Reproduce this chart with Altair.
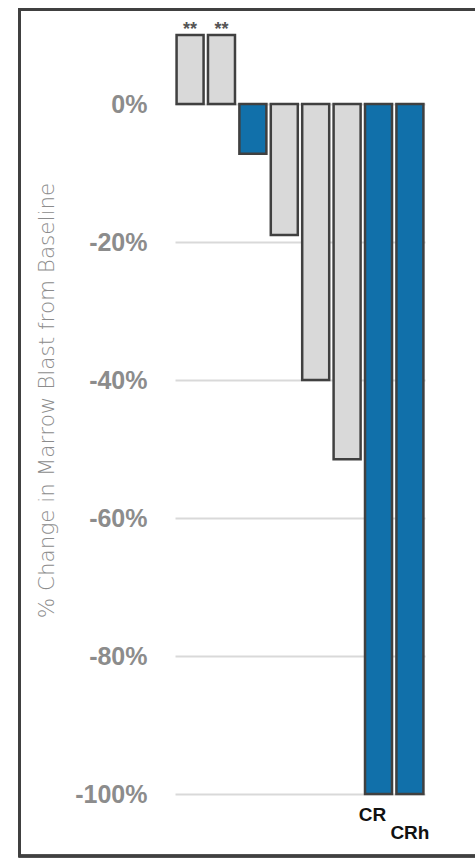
import altair as alt
import pandas as pd

patients = ["P1", "P2", "P3", "P4", "P5", "P6", "P7", "P8"]
change = [0.10, 0.10, -0.072, -0.19, -0.40, -0.515, -1.0, -1.0]
group = ["other", "other", "resp", "other", "other", "other", "resp", "resp"]
star_labels = ["**", "**", "", "", "", "", "", ""]
resp_labels = ["", "", "", "", "", "", "CR", "CRh"]
tick_values = [0, -0.2, -0.4, -0.6, -0.8, -1.0]

df = pd.DataFrame({"patient": patients, "change": change, "group": group,
                   "star": star_labels, "resp": resp_labels})

x_enc = alt.X("patient:N", sort=patients, axis=None,
              scale=alt.Scale(paddingInner=0.14, paddingOuter=0.05))
y_scale = alt.Scale(domain=[-1.0, 0.1], nice=False, zero=True)

bars = alt.Chart(df).mark_bar(stroke="#404040", strokeWidth=2.5, clip=False).encode(
    x=x_enc,
    y=alt.Y("change:Q", scale=y_scale,
            axis=alt.Axis(values=tick_values, grid=True,
                          labelExpr="replace(format(datum.value, '.0%'), '\u2212', '-')",
                          gridColor="#d9d9d9", gridWidth=2, ticks=False, domain=False,
                          labelFont="Liberation Sans", labelFontWeight="bold",
                          labelFontSize=25, labelColor="#8c8c8c", labelPadding=28,
                          title="% Change in Marrow Blast from Baseline",
                          titleFont="DejaVu Sans", titleFontWeight=300, titleFontSize=21.5,
                          titleColor="#8c8c8c", titleX=-128, titleY=365,
                          titleAngle=-90, titleAlign="center", titleBaseline="middle")),
    y2=alt.datum(0),
    color=alt.Color("group:N", scale=alt.Scale(domain=["other", "resp"],
                                               range=["#d9d9d9", "#1170aa"]),
                    legend=None),
)

stars = alt.Chart(df).transform_filter("datum.star != ''").mark_text(
    dy=-5, fontSize=18, fontWeight="bold", color="#555555", font="Liberation Sans"
).encode(x=x_enc, y=alt.Y("change:Q", scale=y_scale), text="star:N")

cr = alt.Chart(df).transform_filter("datum.resp == 'CR'").mark_text(
    dx=-6, dy=21, fontSize=19, fontWeight="bold", color="#111111", font="Liberation Sans"
).encode(x=x_enc, y=alt.Y("change:Q", scale=y_scale), text="resp:N")

crh = alt.Chart(df).transform_filter("datum.resp == 'CRh'").mark_text(
    dx=0, dy=39, fontSize=19, fontWeight="bold", color="#111111", font="Liberation Sans"
).encode(x=x_enc, y=alt.Y("change:Q", scale=y_scale), text="resp:N")

frame_left = alt.Chart(df).mark_rule(color="#404040", strokeWidth=2.5).encode(
    x=alt.value(-155.5), y=alt.value(-26), y2=alt.value(822))
frame_top = alt.Chart(df).mark_rule(color="#404040", strokeWidth=2.5).encode(
    x=alt.value(-156.5), x2=alt.value(310), y=alt.value(-25.5))
frame_bottom = alt.Chart(df).mark_rule(color="#404040", strokeWidth=2.5).encode(
    x=alt.value(-156.5), x2=alt.value(310), y=alt.value(821))

chart = alt.layer(bars, stars, cr, crh, frame_left, frame_top, frame_bottom).properties(
    width=250, height=759,
    autosize=alt.AutoSizeParams(type="none"),
    padding={"left": 175, "top": 35, "right": 50, "bottom": 70},
    view=alt.ViewBackground(stroke="transparent", strokeWidth=0),
).configure_view(stroke="transparent", strokeWidth=0).configure(background="white")

chart.save("out.html", embed_options={"renderer": "svg", "actions": False})
